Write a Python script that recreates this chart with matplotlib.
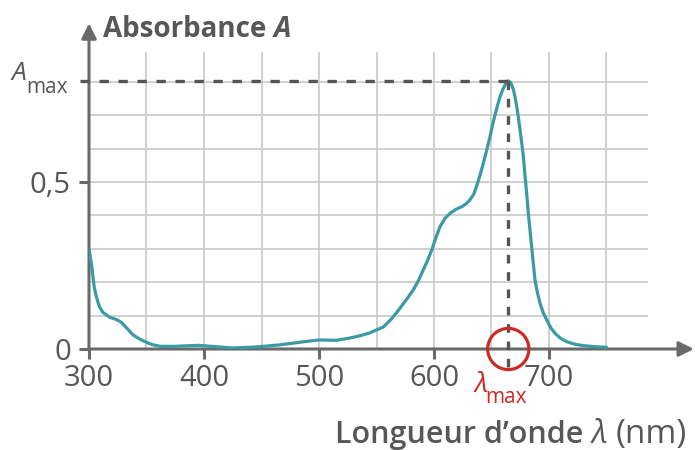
import numpy as np
import matplotlib
matplotlib.use("Agg")
import matplotlib.pyplot as plt

# spectre d'absorption
wavelength = [300, 302.5, 304.5, 306.5, 309, 312, 318, 324, 328, 333, 338, 343, 348, 355,
              362, 375, 395, 410, 425, 445, 465, 485, 500, 515, 527, 536, 544, 556, 563,
              570.4, 576, 582, 586.5, 590.7, 594.5, 598, 601.5, 605.2, 609.5, 613.9, 619,
              624.1, 628, 631.3, 634.5, 637.1, 640, 642.9, 645.8, 648.7, 651, 653, 655.3,
              657.4, 659.6, 661.7, 663.3, 664.6, 666.8, 669, 670.5, 671.9, 673.4, 674.8,
              676.3, 677.7, 679.1, 680.6, 682, 683.5, 684.9, 686.4, 687.8, 690, 692.2, 695,
              698, 701.5, 705.2, 710, 716, 723, 730, 740, 750]
absorbance = [0.30, 0.245, 0.186, 0.155, 0.127, 0.11, 0.095, 0.088, 0.08, 0.062, 0.043, 0.032,
              0.023, 0.013, 0.008, 0.008, 0.011, 0.007, 0.003, 0.006, 0.012, 0.021, 0.027,
              0.026, 0.033, 0.040, 0.048, 0.066, 0.09, 0.122, 0.148, 0.177, 0.205, 0.237,
              0.266, 0.296, 0.332, 0.366, 0.391, 0.406, 0.418, 0.426, 0.435, 0.447, 0.463,
              0.488, 0.52, 0.556, 0.595, 0.636, 0.672, 0.70, 0.73, 0.755, 0.775, 0.79, 0.799,
              0.803, 0.797, 0.777, 0.754, 0.727, 0.693, 0.656, 0.617, 0.576, 0.520, 0.466,
              0.406, 0.355, 0.306, 0.255, 0.207, 0.168, 0.137, 0.108, 0.087, 0.064, 0.047,
              0.032, 0.021, 0.014, 0.010, 0.007, 0.005]

x_ticks = [300, 400, 500, 600, 700]
y_ticks = [0, 0.5]
y_ticklabels = ["0", "0,5"]
grid_x = [350, 400, 450, 500, 550, 600, 650, 700, 750]
grid_y = [0.1, 0.2, 0.3, 0.4, 0.5, 0.6, 0.7, 0.8]

lam_max = wavelength[int(np.argmax(absorbance))]
a_max = max(absorbance)

FONT = "Open Sans"
TXT = "#575757"
AXC = "#6a6a6a"
CURVE = "#3a9ba5"
RED = "#cc2a24"

plt.rcParams["font.family"] = [FONT, "DejaVu Sans"]

fig = plt.figure(figsize=(6.95, 4.5), dpi=100)
ax = fig.add_axes([89 / 695, 101 / 450, 603.75 / 695, 334 / 450])
ax.set_xlim(300, 825)
ax.set_ylim(0, 1)
for s in ax.spines.values():
    s.set_visible(False)

# quadrillage
ax.vlines(grid_x, 0, 0.89, color="#c8c8c8", lw=1.2, zorder=1)
ax.hlines(grid_y, 300, 786, color="#c8c8c8", lw=1.2, zorder=1)

# axes avec flèches
arrow = dict(arrowstyle="-|>,head_length=0.9,head_width=0.45", color=AXC, lw=2.2,
             shrinkA=0, shrinkB=0)
ax.annotate("", xy=(826, 0), xytext=(299, 0), arrowprops=arrow, annotation_clip=False, zorder=3)
ax.annotate("", xy=(300, 0.975), xytext=(300, -0.004), arrowprops=arrow, annotation_clip=False,
            zorder=3)

ax.set_xticks(x_ticks)
ax.set_yticks(y_ticks)
ax.set_yticklabels(y_ticklabels)
ax.tick_params(axis="both", colors=AXC, labelcolor=TXT, labelsize=21, width=2.2, length=7)
ax.tick_params(axis="x", pad=4)
ax.tick_params(axis="y", pad=6)

# courbe
ax.plot(wavelength, absorbance, color=CURVE, lw=2.3, zorder=4, solid_capstyle="round",
        solid_joinstyle="round")

# pointillés vers Amax et lambda max
ax.plot([292, lam_max], [a_max, a_max], color="#555555", lw=2.4, ls=(0, (2.8, 2.9)),
        clip_on=False, zorder=5)
ax.plot([lam_max, lam_max], [a_max, -0.065], color="#555555", lw=2.4, ls=(0, (2.6, 2.6)),
        clip_on=False, zorder=5)

ax.scatter([lam_max], [0], s=880, facecolors="none", edgecolors=RED, linewidths=2.3,
           clip_on=False, zorder=6)

renderer = fig.canvas.get_renderer()


def chain(x0, y0, parts, gap=0.0):
    """écrit plusieurs morceaux de texte à la suite (x0, y0 en pixels depuis le haut-gauche)"""
    x = x0
    for txt, dy, kw in parts:
        t = fig.text(x / 695, 1 - (y0 + dy) / 450, txt, ha="left", va="baseline", **kw)
        bb = t.get_window_extent(renderer)
        x = bb.x1 + gap


chain(103, 37, [("Absorbance ", 0, dict(fontsize=20, fontweight="bold", color=TXT)),
                ("A", 0, dict(fontsize=20, fontweight="bold", fontstyle="italic", color=TXT))])

chain(11, 80, [("A", 0, dict(fontsize=19, fontstyle="italic", color=TXT)),
               ("max", 13, dict(fontsize=15, color=TXT))])

chain(475, 392, [("λ", 0, dict(fontsize=20, fontstyle="italic", color=RED)),
                 ("max", 11, dict(fontsize=15, color=RED))], gap=-3)

chain(335, 443, [("Longueur d’onde ", 0, dict(fontsize=22, fontweight="semibold", color=TXT)),
                 ("λ ", 0, dict(fontsize=23, fontstyle="italic", color=TXT)),
                 ("(nm)", 0, dict(fontsize=24, color=TXT))])

fig.savefig("out.png", dpi=100)
